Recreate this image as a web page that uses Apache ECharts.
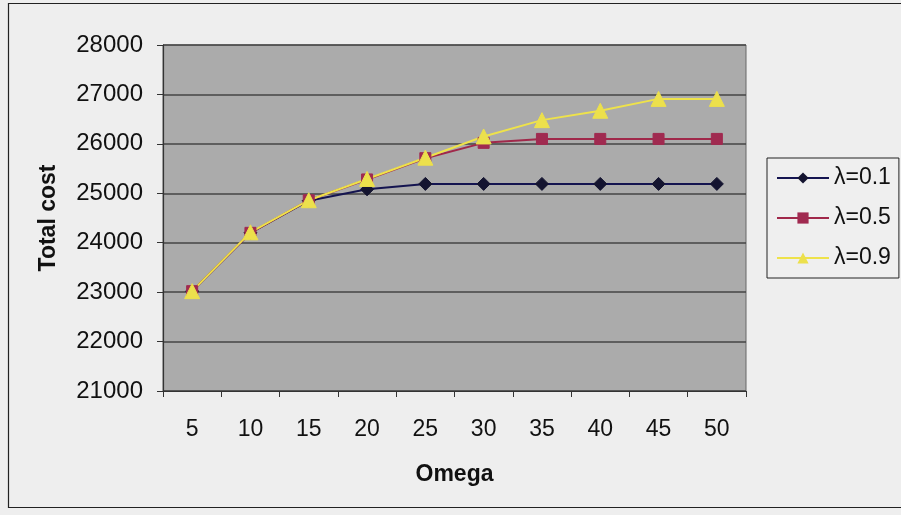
<!DOCTYPE html>
<html>
<head>
<meta charset="utf-8">
<style>
  html, body { margin: 0; padding: 0; background: #eeeeee; }
  #chart { width: 901px; height: 515px; }
</style>
<script src="https://cdn.jsdelivr.net/npm/echarts@6/dist/echarts.min.js"></script>
</head>
<body>
<div id="chart"></div>
<script>
// Omega values on the category axis
const omega = ['5', '10', '15', '20', '25', '30', '35', '40', '45', '50'];

// Total cost for each lambda setting
const lambda01 = [23020, 24200, 24850, 25080, 25190, 25190, 25190, 25190, 25190, 25190];
const lambda05 = [23020, 24200, 24860, 25280, 25710, 26020, 26100, 26100, 26100, 26100];
const lambda09 = [23020, 24210, 24860, 25290, 25720, 26150, 26480, 26670, 26910, 26910];

// Value axis range and step
const yMin = 21000;
const yMax = 28000;
const yStep = 1000;

const font = '"Liberation Sans", Arial, sans-serif';

const chart = echarts.init(document.getElementById('chart'), null, { renderer: 'canvas' });

function lineSeries(name, data, color, markerColor, symbol, size) {
  return {
    name: name,
    type: 'line',
    data: data,
    symbol: symbol,
    symbolSize: size,
    showAllSymbol: true,
    lineStyle: { color: color, width: 2 },
    itemStyle: { color: markerColor, borderColor: markerColor },
    emphasis: { disabled: true },
    animation: false,
    z: 3
  };
}

chart.setOption({
  backgroundColor: '#eeeeee',
  animation: false,
  textStyle: { fontFamily: font },
  graphic: [{
    type: 'rect',
    shape: { x: 8.5, y: 3.5, width: 900, height: 504 },
    style: { fill: 'none', stroke: '#222222', lineWidth: 1.2 },
    silent: true,
    z: -1
  }],
  grid: {
    left: 163, top: 45, right: 155, bottom: 124,
    show: true,
    backgroundColor: '#ababab',
    borderColor: '#666666',
    borderWidth: 1
  },
  legend: {
    orient: 'vertical',
    left: 767, top: 158,
    padding: [8, 8, 8, 9],
    itemGap: 16,
    itemWidth: 52,
    itemHeight: 14,
    borderColor: '#222222',
    borderWidth: 1,
    backgroundColor: '#efefef',
    textStyle: { fontFamily: font, fontSize: 23, color: '#111111', lineHeight: 24 },
    data: ['λ=0.1', 'λ=0.5', 'λ=0.9']
  },
  xAxis: {
    type: 'category',
    data: omega,
    boundaryGap: true,
    name: 'Omega',
    nameLocation: 'middle',
    nameGap: 72,
    nameTextStyle: { fontFamily: font, fontSize: 23, fontWeight: 'bold', color: '#111111' },
    axisLine: { show: true, lineStyle: { color: '#333333', width: 1.2 } },
    axisTick: { show: true, interval: 0, alignWithLabel: false, length: 6, lineStyle: { color: '#333333' } },
    axisLabel: { interval: 0, margin: 27, fontSize: 23, color: '#111111', fontFamily: font },
    splitLine: { show: false }
  },
  yAxis: {
    type: 'value',
    min: yMin, max: yMax, interval: yStep,
    name: 'Total cost',
    nameLocation: 'middle',
    nameGap: 103,
    nameRotate: 90,
    nameTextStyle: { fontFamily: font, fontSize: 23, fontWeight: 'bold', color: '#111111' },
    axisLine: { show: true, lineStyle: { color: '#333333', width: 1.2 } },
    axisTick: { show: true, length: 6, lineStyle: { color: '#333333' } },
    axisLabel: {
      margin: 20, fontSize: 24, color: '#111111', fontFamily: font,
      formatter: function (v) { return String(v); }
    },
    splitLine: { show: true, lineStyle: { color: '#454545', width: 1.5 } }
  },
  series: [
    lineSeries('λ=0.1', lambda01, '#141450', '#141430', 'diamond', 13),
    lineSeries('λ=0.5', lambda05, '#a0284a', '#a02a50', 'rect', 11),
    lineSeries('λ=0.9', lambda09, '#eee24a', '#ece04c', 'triangle', 15)
  ]
});
</script>
</body>
</html>
